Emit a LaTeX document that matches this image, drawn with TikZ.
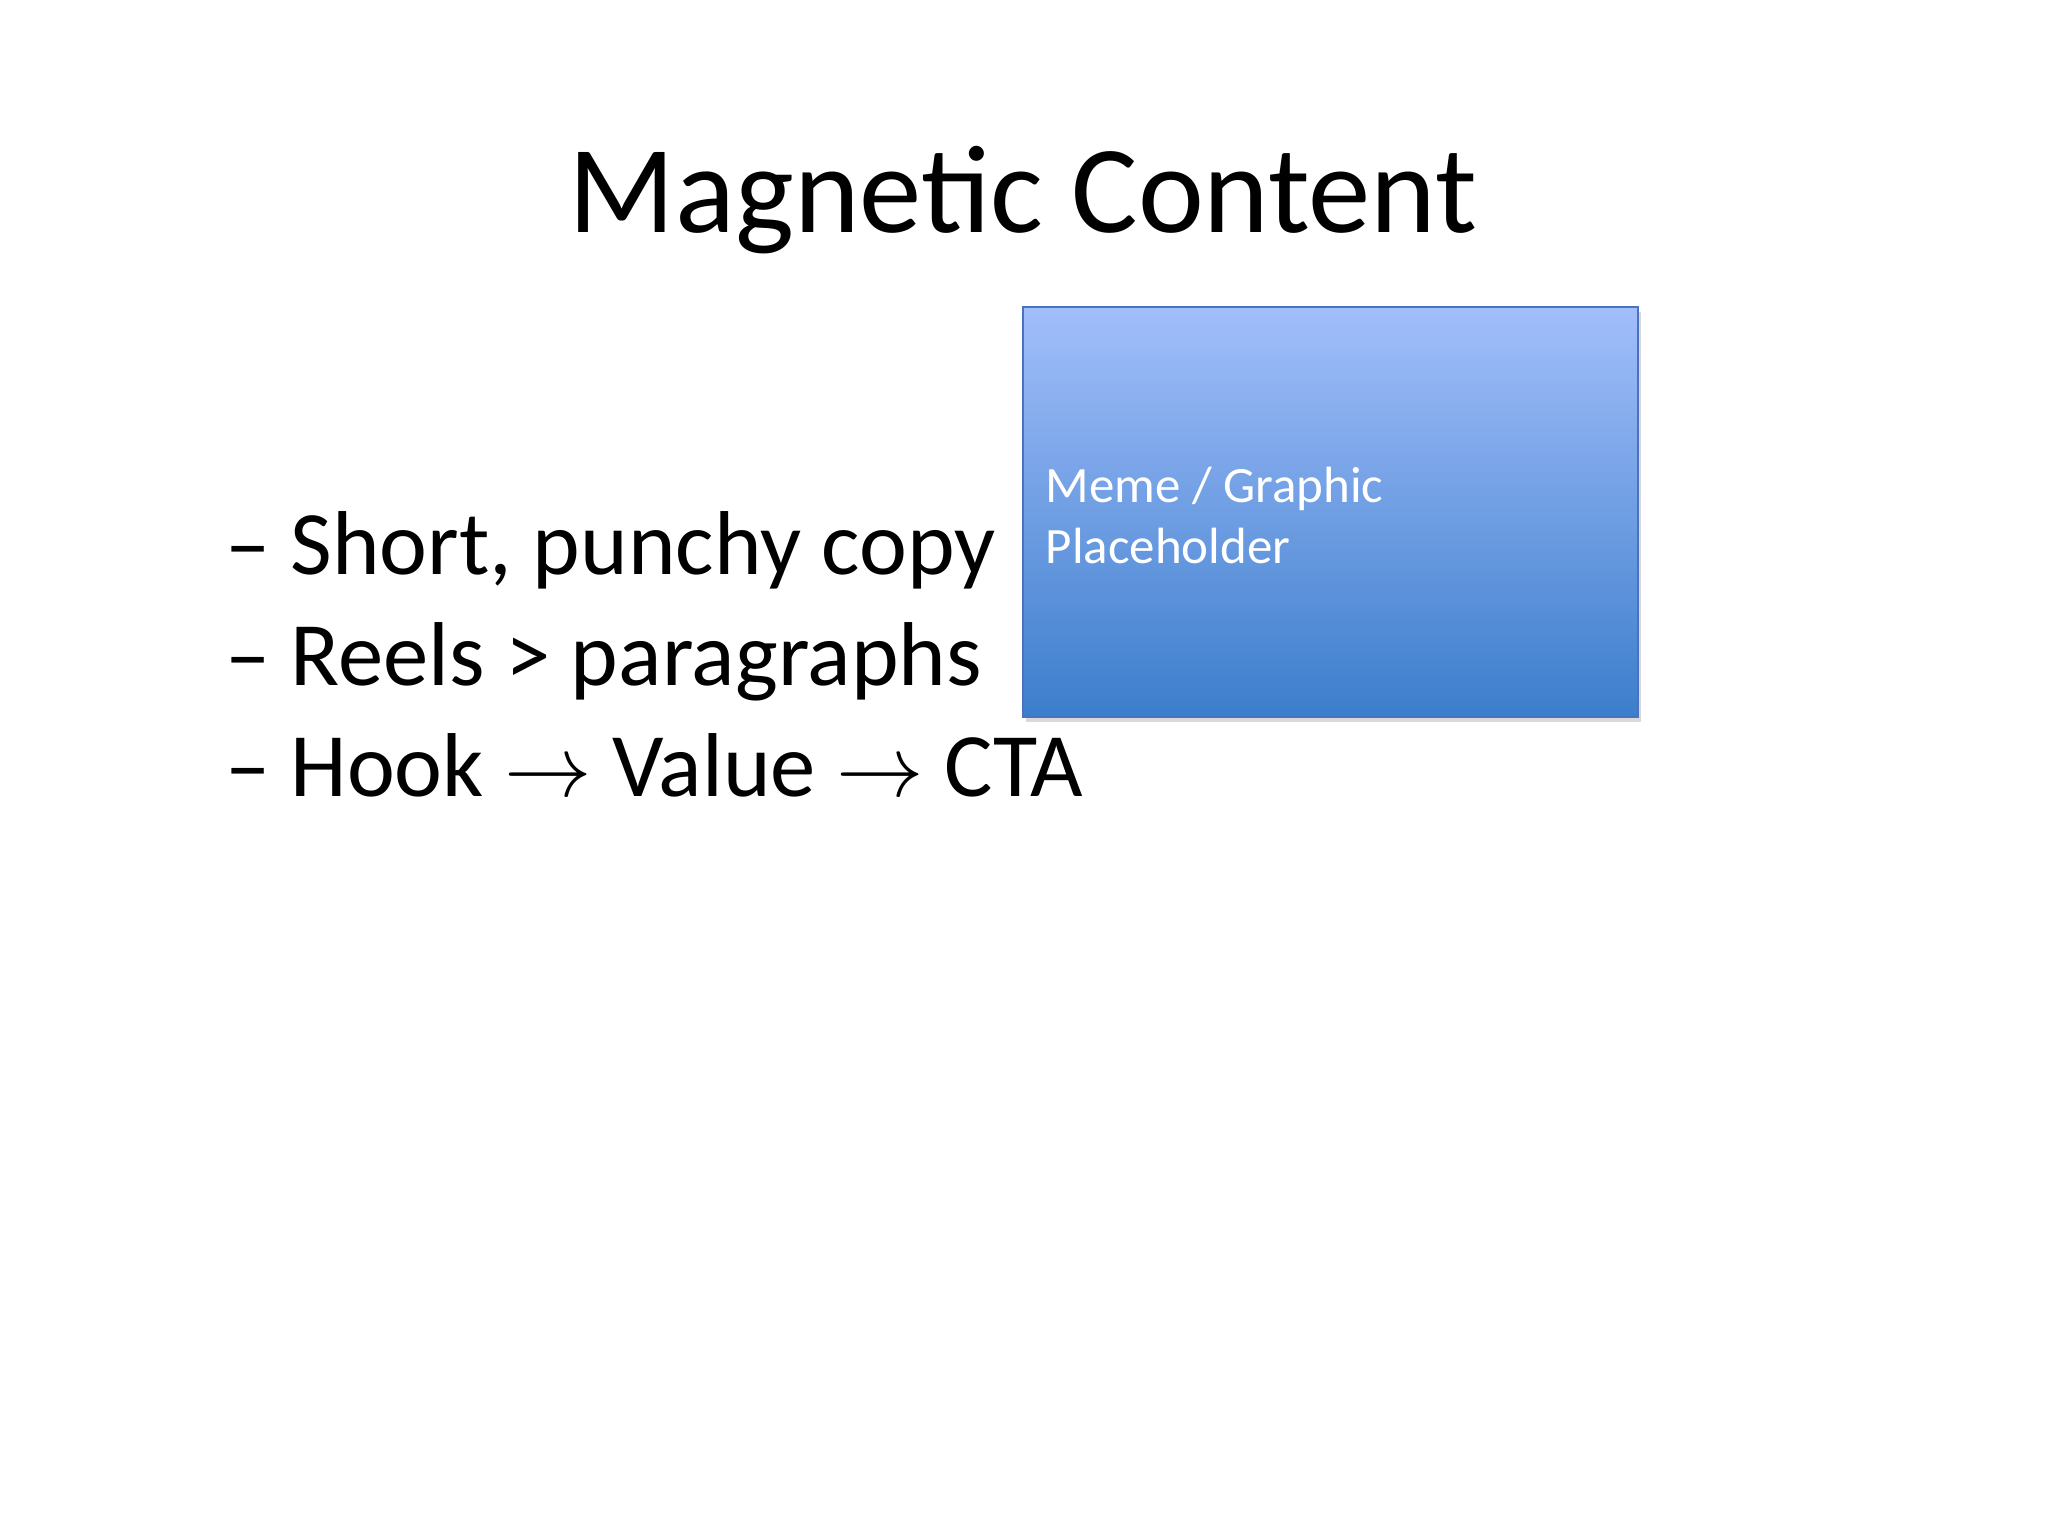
\documentclass[tikz,border=0pt]{standalone}
\usepackage{fontspec}
\setmainfont{Carlito}
\usetikzlibrary{shadows}
\definecolor{boxtop}{HTML}{A2BEFA}
\definecolor{boxbot}{HTML}{3C7ECC}
\definecolor{boxline}{HTML}{4A72C0}
\tikzset{bullet/.style={anchor=base west,inner sep=0pt,font=\fontsize{25.8pt}{31pt}\selectfont},
boxtext/.style={anchor=base west,inner sep=0pt,text=white,font=\fontsize{14.5pt}{17pt}\selectfont}}
\begin{document}
\begin{tikzpicture}
\useasboundingbox (0,0) rectangle (20.48,15.36);
\node[inner sep=0pt,font=\fontsize{35.5pt}{42pt}\selectfont] (title) at (10.23,13.36) {Magnetic Content};
\node[bullet] (d1) at (2.25,9.61) {–};
\node[bullet] (b1) at (2.90,9.61) {Short, punchy copy};
\node[bullet] (d2) at (2.25,8.50) {–};
\node[bullet] (b2) at (2.90,8.50) {Reels > paragraphs};
\node[bullet] (d3) at (2.25,7.39) {–};
\node[bullet] (b3) at (2.90,7.39) {Hook $\rightarrow$ Value $\rightarrow$ CTA};
\shade[top color=boxtop,bottom color=boxbot,draw=boxline,line width=0.8pt,drop shadow={opacity=0.3,shadow xshift=0.03,shadow yshift=-0.05}] (10.23,8.19) rectangle (16.38,12.29);
\node[boxtext] (m1) at (10.45,10.33) {Meme / Graphic};
\node[boxtext] (m2) at (10.45,9.72) {Placeholder};
\end{tikzpicture}
\end{document}
